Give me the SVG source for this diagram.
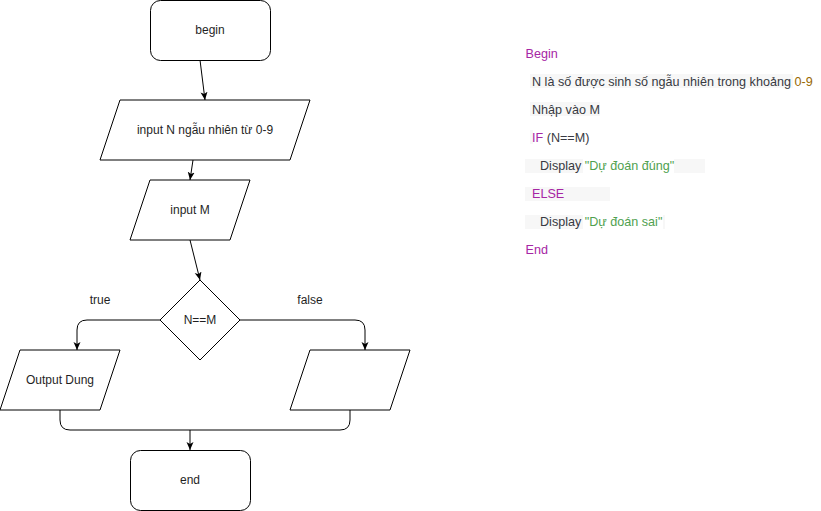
<svg xmlns="http://www.w3.org/2000/svg" width="821" height="511" viewBox="0 0 821 511">
<style>
.shape{fill:#ffffff;stroke:#000000;stroke-width:1}
.lbl{font-family:"Liberation Sans",Arial,sans-serif;font-size:12px;fill:#1f1f1f;text-anchor:middle;dominant-baseline:central}
.edge{fill:none;stroke:#000000;stroke-width:1}
.code{font-family:"Liberation Sans",Arial,sans-serif;font-size:12.6px;fill:#383a42}
.kw{fill:#a626a4}
.str{fill:#50a14f}
.num{fill:#986801}
.hl{fill:#f7f7f7}
</style>
<defs>
<marker id="arr" markerWidth="10" markerHeight="10" refX="8" refY="3.5" orient="auto" markerUnits="userSpaceOnUse">
<path d="M0,0 L8,3.5 L0,7 L2,3.5 z" fill="#000000"/>
</marker>
</defs>
<rect width="821" height="511" fill="#ffffff"/>

<g id="connectors">
<path class="edge" d="M200,60 L205,100" marker-end="url(#arr)"/>
<path class="edge" d="M193,160 L190,180" marker-end="url(#arr)"/>
<path class="edge" d="M190,240 L200,280" marker-end="url(#arr)"/>
<path class="edge" d="M160,320 H87 Q77,320 77,330 V350" marker-end="url(#arr)"/>
<path class="edge" d="M240,320 H355 Q365,320 365,330 V350" marker-end="url(#arr)"/>
<path class="edge" d="M60,410 V420 Q60,430 70,430 H340 Q350,430 350,420 V410"/>
<path class="edge" d="M190,430 V450" marker-end="url(#arr)"/>
<text class="lbl" x="100" y="300">true</text>
<text class="lbl" x="310" y="300">false</text>
</g>

<g id="begin">
<rect class="shape" x="150.5" y="0.5" width="120" height="60" rx="10" ry="10"/>
<text class="lbl" x="210" y="30">begin</text>
</g>
<g id="inputN">
<polygon class="shape" points="120,100 310,100 290,160 100,160"/>
<text class="lbl" x="205" y="130">input N ngẫu nhiên từ 0-9</text>
</g>
<g id="inputM">
<polygon class="shape" points="150,180 250,180 230,240 130,240"/>
<text class="lbl" x="190" y="210">input M</text>
</g>
<g id="decision">
<polygon class="shape" points="200,280 240,320 200,360 160,320"/>
<text class="lbl" x="200" y="320">N==M</text>
</g>
<g id="outputDung">
<polygon class="shape" points="20,350 120,350 100,410 0,410"/>
<text class="lbl" x="60" y="380">Output Dung</text>
</g>
<g id="outputSai">
<polygon class="shape" points="310,350 410,350 390,410 290,410"/>
</g>
<g id="end">
<rect class="shape" x="130.5" y="450.5" width="120" height="60" rx="10" ry="10"/>
<text class="lbl" x="190" y="480">end</text>
</g>

<g id="pseudocode">
<rect class="hl" x="530" y="74" width="263" height="14"/>
<rect class="hl" x="530" y="102" width="70" height="14"/>
<rect class="hl" x="530" y="130" width="3" height="14"/>
<rect class="hl" x="525" y="159" width="58" height="14"/>
<rect class="hl" x="674" y="159" width="31" height="14"/>
<rect class="hl" x="525" y="187" width="85" height="14"/>
<rect class="hl" x="525" y="215" width="58" height="14"/>
<rect class="hl" x="663" y="215" width="2" height="14"/>
<text class="code kw" x="525.5" y="57.5">Begin</text>
<text class="code" x="532" y="85.5">N là số được sinh số ngẫu nhiên trong khoảng <tspan class="num">0-9</tspan></text>
<text class="code" x="532" y="113.5">Nhập vào M</text>
<text class="code" x="532" y="141.5"><tspan class="kw">IF</tspan> (N==M)</text>
<text class="code" x="540" y="169.5">Display <tspan class="str">"Dự đoán đúng"</tspan></text>
<text class="code kw" x="532" y="197.5">ELSE</text>
<text class="code" x="540" y="225.5">Display <tspan class="str">"Dự đoán sai"</tspan></text>
<text class="code kw" x="525.5" y="253.5">End</text>
</g>
</svg>
